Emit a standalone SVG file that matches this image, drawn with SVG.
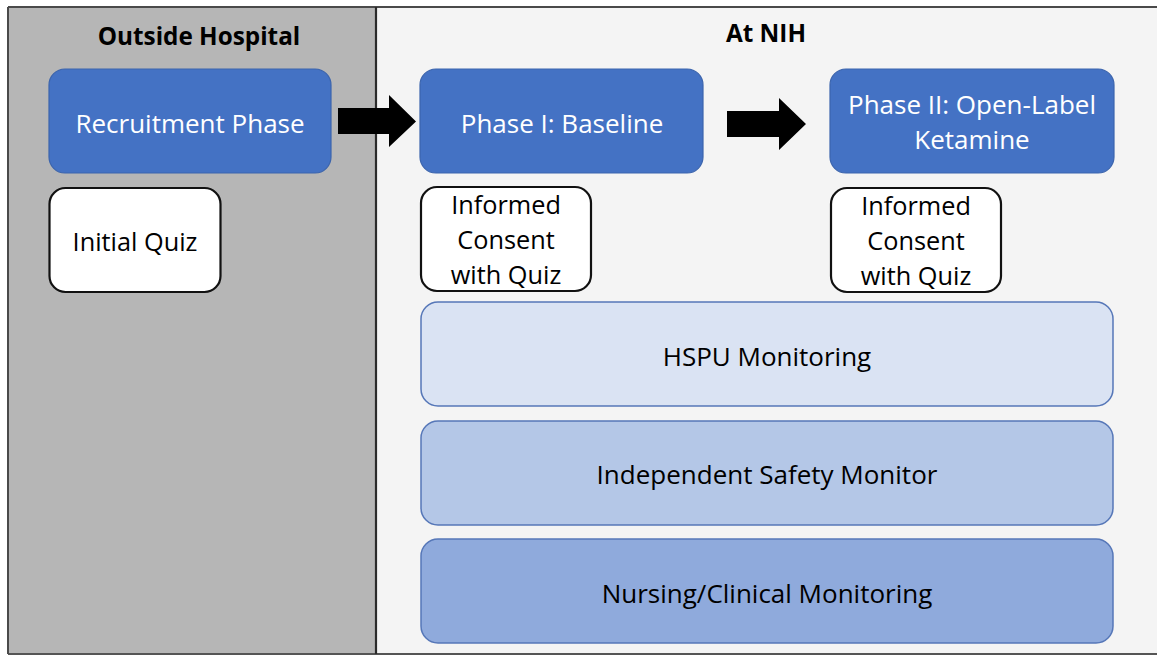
<svg xmlns="http://www.w3.org/2000/svg" width="1157" height="656" viewBox="0 0 1157 656">
  <defs>
    <style>
      .t { font-family: "Open Sans", "Liberation Sans", sans-serif; font-size: 26px; text-anchor: middle; }
      .q { font-size: 25.3px; }
      .head { font-family: "Open Sans", "Liberation Sans", sans-serif; font-size: 24.3px; font-weight: bold; text-anchor: middle; fill: #000; }
      .phase rect { fill: #4472c4; stroke: #3b64ad; stroke-width: 1.2; }
      .phase text { fill: #ffffff; }
      .quiz rect { fill: #ffffff; stroke: #111111; stroke-width: 2.2; }
      .quiz text { fill: #000000; }
      .mon rect { stroke: #5677b8; stroke-width: 1.5; }
      .mon text { fill: #000000; }
      .arrow { fill: #000000; }
    </style>
  </defs>

  <!-- panels -->
  <rect x="0" y="0" width="1157" height="656" fill="#ffffff"/>
  <rect x="8" y="7" width="368" height="647" fill="#b6b6b6"/>
  <rect x="376" y="7" width="781" height="647" fill="#f4f4f4"/>
  <line x1="8" y1="7" x2="1157" y2="7" stroke="#4a4a4a" stroke-width="2"/>
  <line x1="8" y1="654" x2="1157" y2="654" stroke="#555555" stroke-width="2"/>
  <line x1="8" y1="7" x2="8" y2="654" stroke="#4a4a4a" stroke-width="2"/>
  <line x1="376" y1="7" x2="376" y2="654" stroke="#2b2b2b" stroke-width="2.2"/>

  <text class="head" x="199" y="45">Outside Hospital</text>
  <text class="head" x="766" y="42">At NIH</text>

  <!-- connectors -->
  <g id="connectors">
    <polygon class="arrow" points="338,108 389,108 389,95 416,121.5 389,147 389,134 338,134"/>
    <polygon class="arrow" points="727,111 779,111 779,98 806,124 779,150 779,137 727,137"/>
  </g>

  <!-- phase nodes -->
  <g id="recruitment" class="phase">
    <rect x="49" y="69" width="282" height="104" rx="16"/>
    <text class="t" x="190" y="133">Recruitment Phase</text>
  </g>
  <g id="phase1" class="phase">
    <rect x="420" y="69" width="283" height="104" rx="16"/>
    <text class="t" x="562" y="133">Phase I: Baseline</text>
  </g>
  <g id="phase2" class="phase">
    <rect x="830" y="69" width="284" height="104" rx="16"/>
    <text class="t" x="972" y="114">Phase II: Open-Label</text>
    <text class="t" x="972" y="149">Ketamine</text>
  </g>

  <!-- quiz nodes -->
  <g id="initial-quiz" class="quiz">
    <rect x="49.5" y="188" width="171" height="104" rx="16"/>
    <text class="t q" x="135" y="251">Initial Quiz</text>
  </g>
  <g id="consent1" class="quiz">
    <rect x="421" y="187" width="170" height="104" rx="16"/>
    <text class="t q" x="506" y="214">Informed</text>
    <text class="t q" x="506" y="249">Consent</text>
    <text class="t q" x="506" y="284">with Quiz</text>
  </g>
  <g id="consent2" class="quiz">
    <rect x="831" y="188" width="170" height="104" rx="16"/>
    <text class="t q" x="916" y="215">Informed</text>
    <text class="t q" x="916" y="250">Consent</text>
    <text class="t q" x="916" y="285">with Quiz</text>
  </g>

  <!-- monitoring layers -->
  <g id="hspu" class="mon">
    <rect x="421" y="302" width="692" height="104" rx="17" fill="#dae3f3"/>
    <text class="t" x="767" y="366">HSPU Monitoring</text>
  </g>
  <g id="safety-monitor" class="mon">
    <rect x="421" y="421" width="692" height="104" rx="17" fill="#b4c7e7"/>
    <text class="t" x="767" y="484">Independent Safety Monitor</text>
  </g>
  <g id="nursing" class="mon">
    <rect x="421" y="539" width="692" height="104" rx="17" fill="#8faadc"/>
    <text class="t" x="767" y="603">Nursing/Clinical Monitoring</text>
  </g>
</svg>
